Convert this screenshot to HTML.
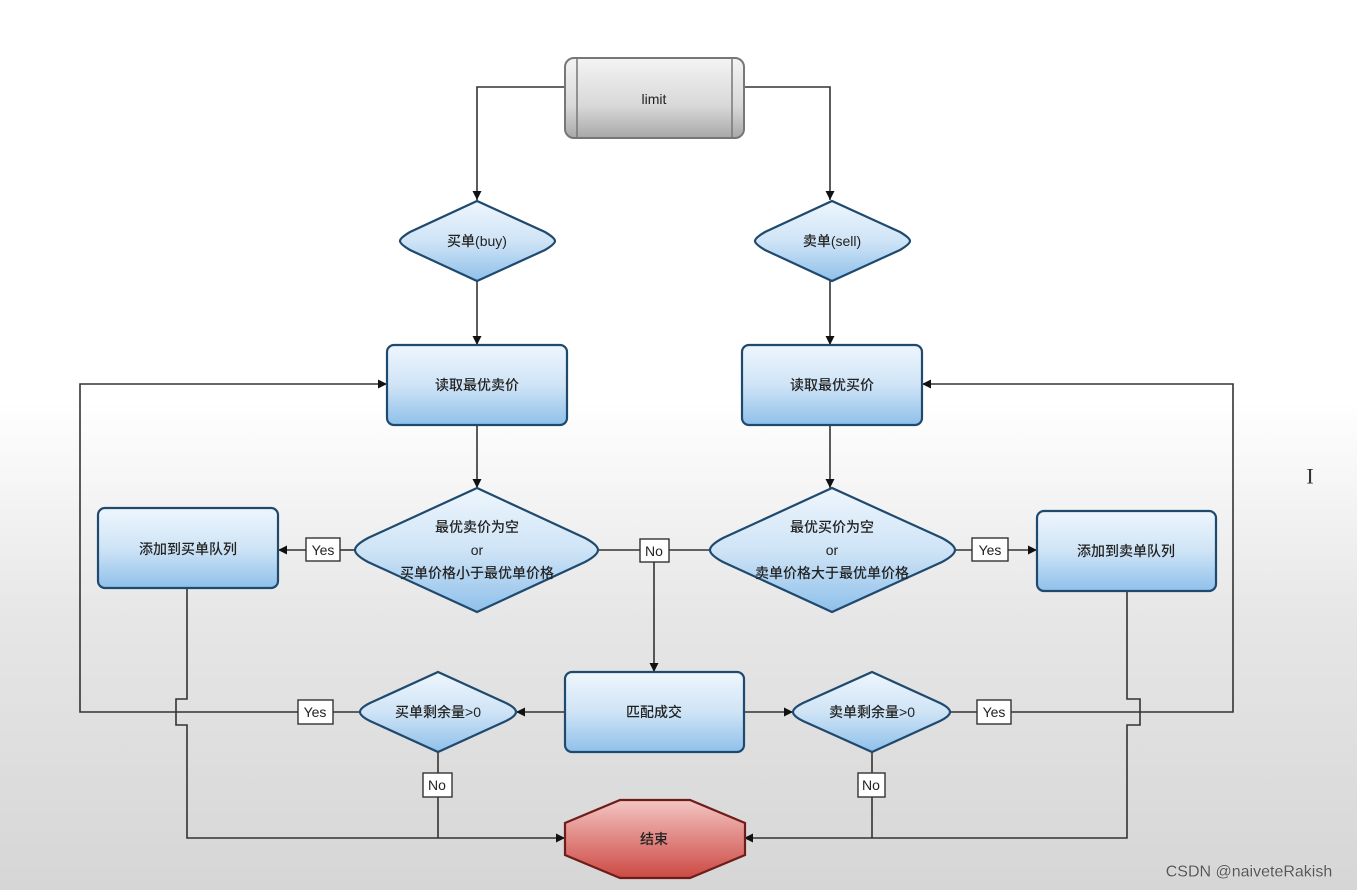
<!DOCTYPE html>
<html><head><meta charset="utf-8"><style>
html,body{margin:0;padding:0;}
body{width:1357px;height:890px;overflow:hidden;background:linear-gradient(to bottom,#ffffff 0px,#ffffff 400px,#e6e6e6 620px,#d6d6d6 890px);}
svg{position:absolute;left:0;top:0;}
text{font-family:"Liberation Sans","Noto Sans CJK SC",sans-serif;fill:#222;font-size:14px;text-anchor:middle;dominant-baseline:central;font-weight:500;}
</style></head><body>
<svg width="1357" height="890" viewBox="0 0 1357 890">
<defs>
<linearGradient id="blue" x1="0" y1="0" x2="0" y2="1">
<stop offset="0" stop-color="#eef6fd"/><stop offset="0.5" stop-color="#cfe4f6"/><stop offset="1" stop-color="#8fc0ea"/></linearGradient>
<linearGradient id="gray" x1="0" y1="0" x2="0" y2="1">
<stop offset="0" stop-color="#f4f4f4"/><stop offset="0.6" stop-color="#d8d8d8"/><stop offset="1" stop-color="#a8a8a8"/></linearGradient>
<linearGradient id="red" x1="0" y1="0" x2="0" y2="1">
<stop offset="0" stop-color="#f3c6c4"/><stop offset="0.5" stop-color="#e08682"/><stop offset="1" stop-color="#cc4a44"/></linearGradient>
<marker id="ar" viewBox="0 0 10 10" refX="10" refY="5" markerWidth="9" markerHeight="9" markerUnits="userSpaceOnUse" orient="auto"><path d="M0,0 L10,5 L0,10 z" fill="#111"/></marker>
</defs>
<g fill="none" stroke="#333" stroke-width="1.6">
<polyline points="565,87 477,87 477,200" marker-end="url(#ar)"/>
<polyline points="744,87 830,87 830,200" marker-end="url(#ar)"/>
<line x1="477" y1="281" x2="477" y2="345" marker-end="url(#ar)"/>
<line x1="830" y1="281" x2="830" y2="345" marker-end="url(#ar)"/>
<line x1="477" y1="425" x2="477" y2="488" marker-end="url(#ar)"/>
<line x1="830" y1="425" x2="830" y2="488" marker-end="url(#ar)"/>
<line x1="355" y1="550" x2="340" y2="550"/>
<line x1="306" y1="550" x2="278" y2="550" marker-end="url(#ar)"/>
<line x1="955" y1="550" x2="972" y2="550"/>
<line x1="1008" y1="550" x2="1037" y2="550" marker-end="url(#ar)"/>
<line x1="598" y1="550" x2="640" y2="550"/>
<line x1="669" y1="550" x2="710" y2="550"/>
<line x1="654" y1="562" x2="654" y2="672" marker-end="url(#ar)"/>
<line x1="565" y1="712" x2="516" y2="712" marker-end="url(#ar)"/>
<line x1="744" y1="712" x2="793" y2="712" marker-end="url(#ar)"/>
<line x1="360" y1="712" x2="333" y2="712"/>
<polyline points="298,712 80,712 80,384 387,384" marker-end="url(#ar)"/>
<line x1="950" y1="712" x2="977" y2="712"/>
<polyline points="1011,712 1233,712 1233,384 922,384" marker-end="url(#ar)"/>
<line x1="438" y1="752" x2="438" y2="773"/>
<line x1="438" y1="797" x2="438" y2="838"/>
<line x1="872" y1="752" x2="872" y2="773"/>
<line x1="872" y1="797" x2="872" y2="838"/>
<polyline points="187,589 187,699 176,699 176,725 187,725 187,838 565,838" marker-end="url(#ar)"/>
<polyline points="1127,591 1127,699 1140,699 1140,725 1127,725 1127,838 744,838" marker-end="url(#ar)"/>
</g>
<rect x="565" y="58" width="179" height="80" rx="9" fill="url(#gray)" stroke="#777" stroke-width="2"/>
<line x1="577" y1="59" x2="577" y2="137" stroke="#777" stroke-width="1.5"/>
<line x1="732" y1="59" x2="732" y2="137" stroke="#777" stroke-width="1.5"/>
<text x="654" y="99">limit</text>
<g stroke="#1f4a6e" stroke-width="2.2" fill="url(#blue)">
<path d="M400,241 Q400,238 410,232 L477,201 L545,232 Q555,238 555,241 Q555,244 545,250 L477,281 L410,250 Q400,244 400,241z"/>
<path d="M755,241 Q755,238 765,232 L832,201 L900,232 Q910,238 910,241 Q910,244 900,250 L832,281 L765,250 Q755,244 755,241z"/>
<rect x="387" y="345" width="180" height="80" rx="7"/>
<rect x="742" y="345" width="180" height="80" rx="7"/>
<path d="M355,550 Q355,545 368,538 L477,488 L585,538 Q598,545 598,550 Q598,555 585,562 L477,612 L368,562 Q355,555 355,550z"/>
<path d="M710,550 Q710,545 723,538 L832,488 L942,538 Q955,545 955,550 Q955,555 942,562 L832,612 L723,562 Q710,555 710,550z"/>
<rect x="98" y="508" width="180" height="80" rx="7"/>
<rect x="1037" y="511" width="179" height="80" rx="7"/>
<rect x="565" y="672" width="179" height="80" rx="7"/>
<path d="M360,712 Q360,708 370,703 L438,672 L506,703 Q516,708 516,712 Q516,716 506,721 L438,752 L370,721 Q360,716 360,712z"/>
<path d="M793,712 Q793,708 803,703 L872,672 L940,703 Q950,708 950,712 Q950,716 940,721 L872,752 L803,721 Q793,716 793,712z"/>
</g>
<path d="M620,800 L690,800 L745,823 L745,855 L690,878 L620,878 L565,855 L565,823z" fill="url(#red)" stroke="#6e1d1a" stroke-width="2.2"/>
<text x="477" y="241">买单(buy)</text>
<text x="832" y="241">卖单(sell)</text>
<text x="477" y="385">读取最优卖价</text>
<text x="832" y="385">读取最优买价</text>
<text x="477" y="527">最优卖价为空</text>
<text x="477" y="550">or</text>
<text x="477" y="573">买单价格小于最优单价格</text>
<text x="832" y="527">最优买价为空</text>
<text x="832" y="550">or</text>
<text x="832" y="573">卖单价格大于最优单价格</text>
<text x="188" y="549">添加到买单队列</text>
<text x="1126" y="551">添加到卖单队列</text>
<text x="654" y="712">匹配成交</text>
<text x="438" y="712">买单剩余量&gt;0</text>
<text x="872" y="712">卖单剩余量&gt;0</text>
<text x="654" y="839">结束</text>
<g fill="#fff" stroke="#333" stroke-width="1.4">
<rect x="306" y="538" width="34" height="23"/>
<rect x="972" y="538" width="36" height="23"/>
<rect x="640" y="539" width="29" height="23"/>
<rect x="298" y="700" width="35" height="24"/>
<rect x="977" y="700" width="34" height="24"/>
<rect x="423" y="773" width="29" height="24"/>
<rect x="858" y="773" width="27" height="24"/>
</g>
<g style="font-size:15px">
<text x="323" y="550">Yes</text>
<text x="990" y="550">Yes</text>
<text x="654" y="551">No</text>
<text x="315" y="712">Yes</text>
<text x="994" y="712">Yes</text>
<text x="437" y="785">No</text>
<text x="871" y="785">No</text>
</g>
<text x="1310" y="476" style="font-size:22px;fill:#333;font-family:'Liberation Serif',serif">I</text>
<text x="1249" y="872" style="font-size:16px;fill:#555;stroke:#f4f4f4;stroke-width:0.6;paint-order:stroke">CSDN @naiveteRakish</text>
</svg>
</body></html>
